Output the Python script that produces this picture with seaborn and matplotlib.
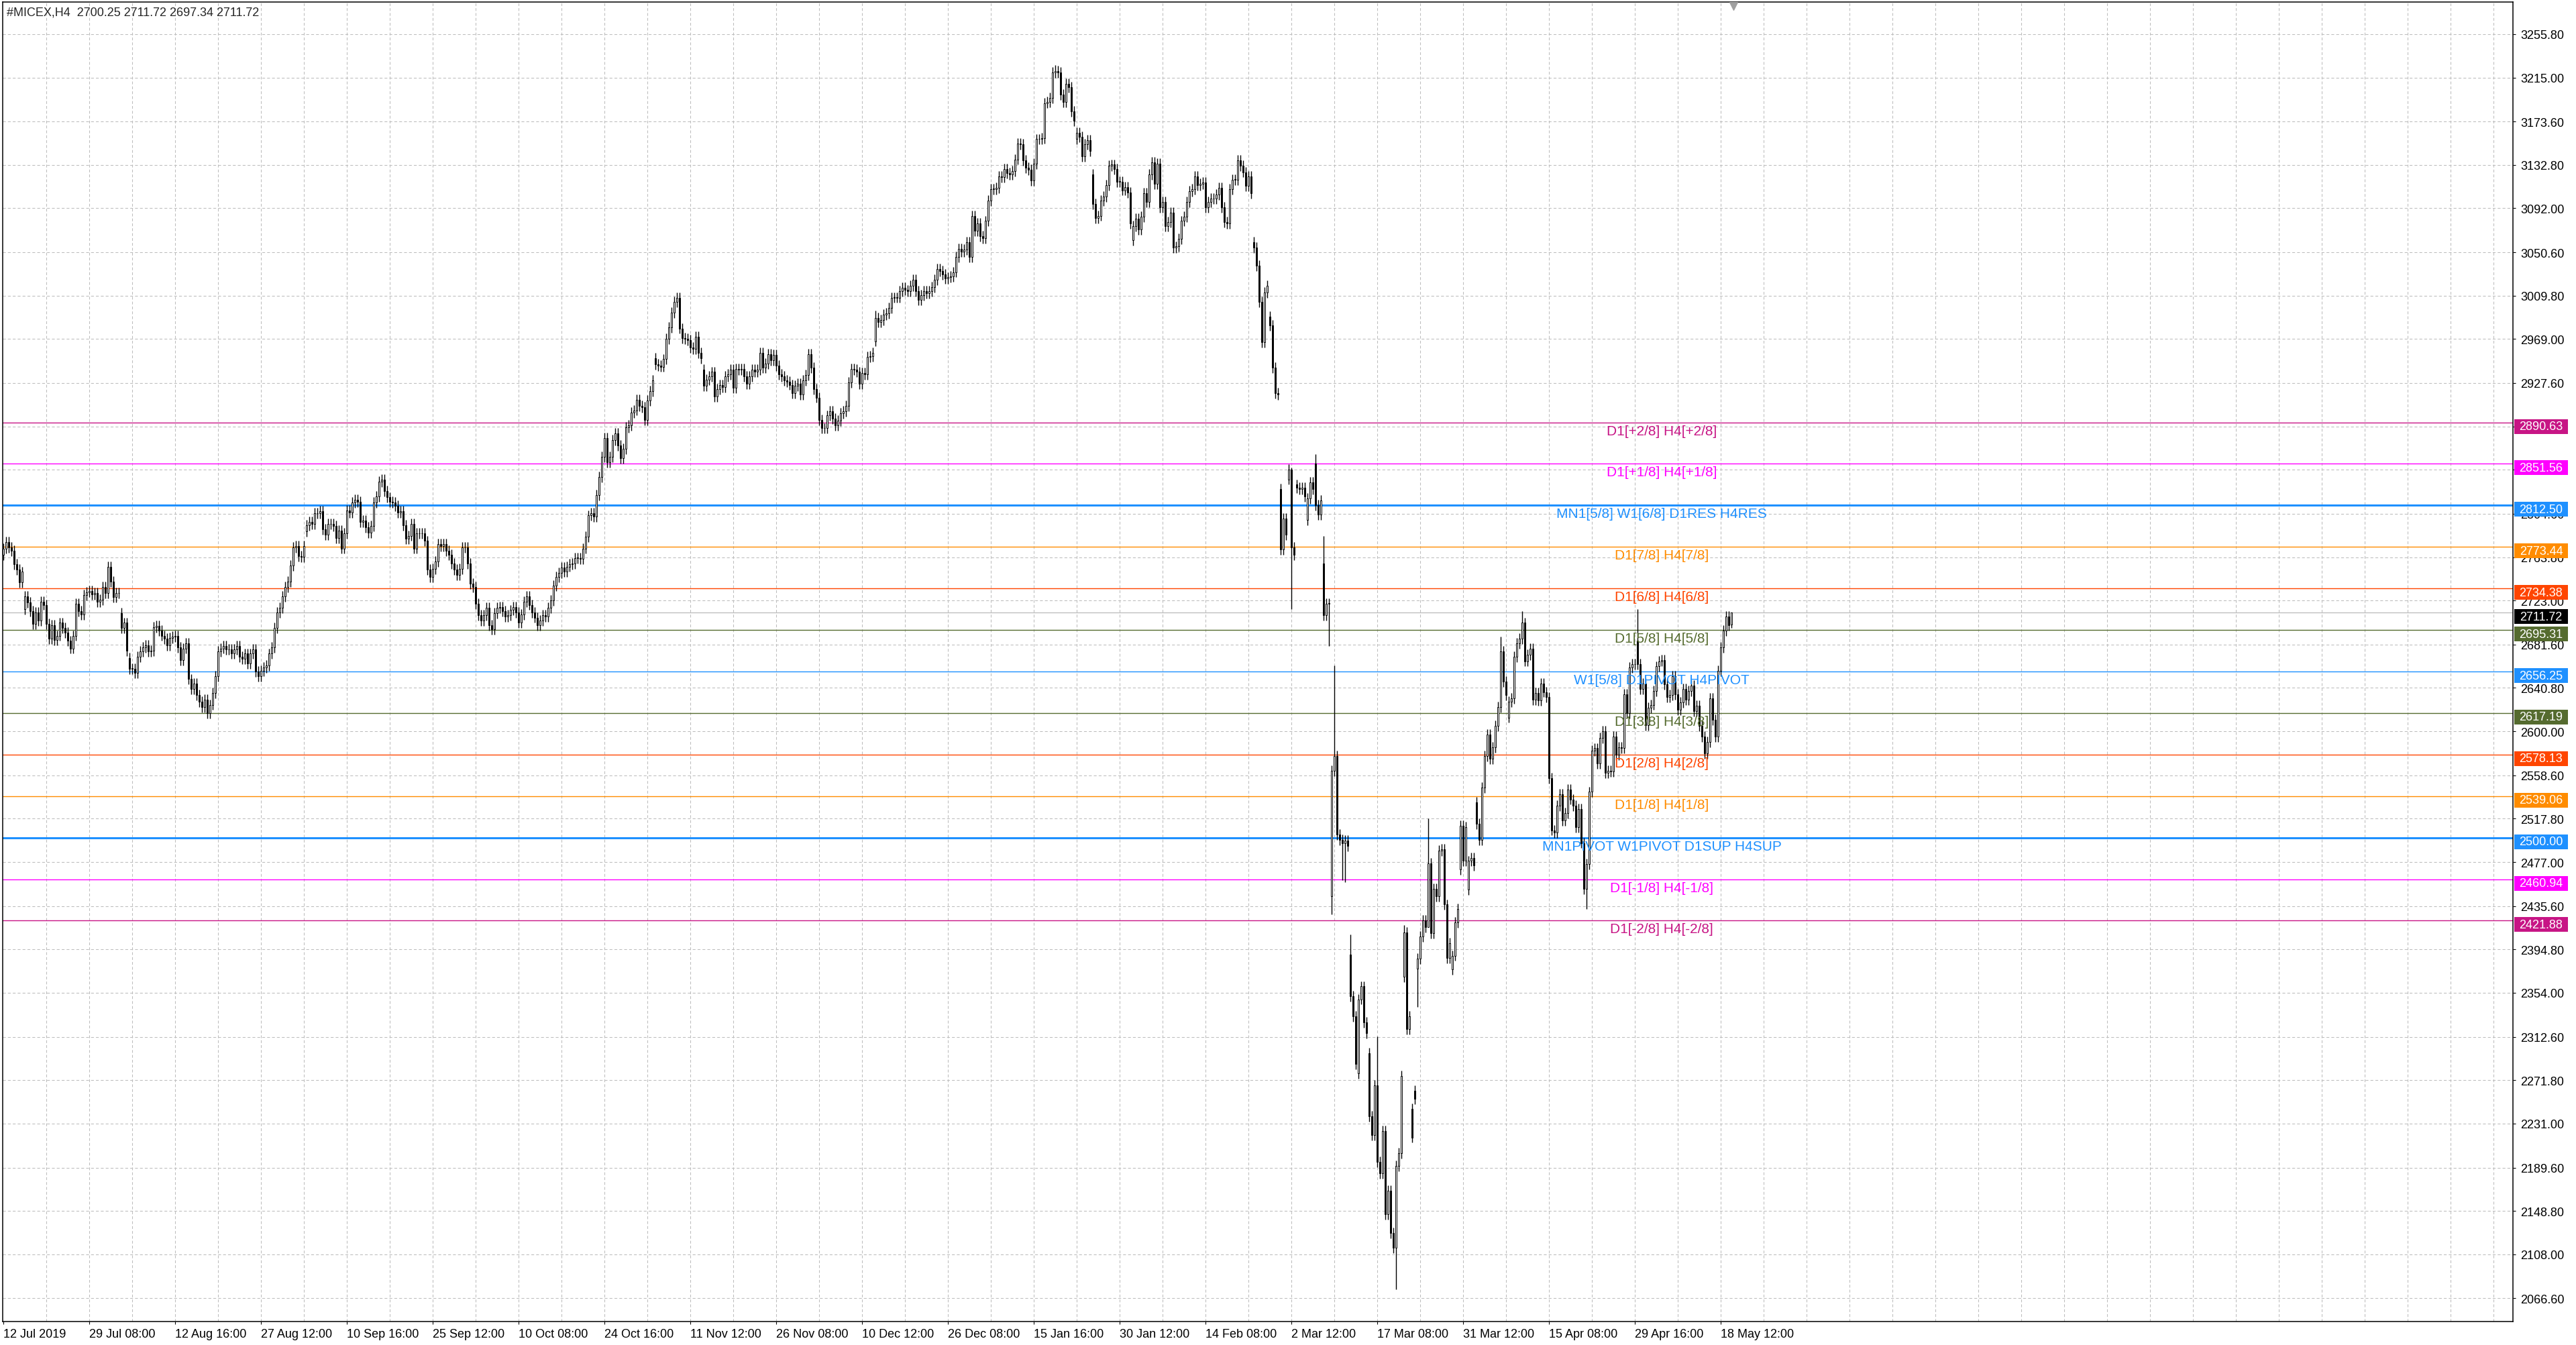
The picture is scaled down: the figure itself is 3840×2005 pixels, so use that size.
import matplotlib
matplotlib.use("Agg")
import matplotlib.pyplot as plt
from matplotlib.patches import Rectangle
import pandas as pd
import seaborn as sns

sns.set_theme(style="white")
plt.rcParams["font.family"] = ["Liberation Sans", "DejaVu Sans"]

# --- data (H4 bars, 12 Jul 2019 .. 19 May 2020) ---
closes = [
    2772, 2778, 2773, 2770, 2757, 2752, 2740, 2750, 2727, 2721, 2713, 2701, 2712, 2704, 2722, 2719,
    2701, 2687, 2700, 2686, 2690, 2702, 2697, 2693, 2685, 2678, 2690, 2720, 2713, 2710, 2728, 2731,
    2732, 2729, 2730, 2722, 2724, 2736, 2730, 2755, 2741, 2726, 2730, 2730, 2697, 2702, 2676, 2659,
    2659, 2655, 2670, 2675, 2679, 2681, 2675, 2676, 2698, 2699, 2695, 2690, 2687, 2681, 2688, 2689,
    2690, 2679, 2667, 2678, 2683, 2649, 2640, 2645, 2634, 2628, 2623, 2630, 2617, 2625, 2636, 2652,
    2675, 2678, 2680, 2677, 2677, 2673, 2677, 2680, 2670, 2668, 2673, 2664, 2673, 2677, 2656, 2652,
    2657, 2660, 2662, 2673, 2679, 2697, 2712, 2716, 2727, 2736, 2741, 2756, 2773, 2774, 2765, 2764,
    2774, 2794, 2797, 2795, 2805, 2805, 2807, 2790, 2785, 2795, 2795, 2793, 2782, 2789, 2772, 2786,
    2808, 2806, 2815, 2818, 2816, 2797, 2798, 2792, 2787, 2793, 2815, 2821, 2835, 2837, 2826, 2820,
    2816, 2815, 2812, 2806, 2807, 2794, 2781, 2784, 2795, 2772, 2786, 2786, 2786, 2779, 2752, 2745,
    2753, 2760, 2776, 2774, 2776, 2770, 2766, 2758, 2752, 2747, 2753, 2773, 2773, 2758, 2739, 2736,
    2720, 2709, 2704, 2709, 2716, 2700, 2696, 2711, 2716, 2717, 2713, 2708, 2709, 2714, 2717, 2712,
    2702, 2710, 2722, 2727, 2719, 2712, 2707, 2700, 2704, 2709, 2708, 2716, 2723, 2737, 2745, 2749,
    2754, 2750, 2755, 2757, 2758, 2763, 2763, 2762, 2772, 2783, 2803, 2805, 2802, 2822, 2839, 2858,
    2876, 2853, 2858, 2874, 2880, 2869, 2857, 2866, 2886, 2888, 2900, 2902, 2912, 2906, 2905, 2893,
    2911, 2920, 2930, 2945, 2944, 2943, 2950, 2969, 2980, 2994, 3004, 3008, 2979, 2970, 2969, 2968,
    2961, 2960, 2971, 2956, 2951, 2925, 2931, 2934, 2938, 2915, 2922, 2926, 2924, 2934, 2936, 2940,
    2923, 2941, 2940, 2941, 2934, 2927, 2934, 2940, 2938, 2940, 2956, 2942, 2946, 2955, 2949, 2954,
    2944, 2936, 2934, 2930, 2929, 2926, 2918, 2925, 2927, 2917, 2930, 2935, 2955, 2942, 2922, 2914,
    2893, 2885, 2885, 2897, 2901, 2894, 2888, 2892, 2899, 2901, 2906, 2928, 2941, 2940, 2938, 2927,
    2937, 2936, 2952, 2953, 2956, 2989, 2985, 2987, 2992, 2993, 2998, 3008, 3008, 3008, 3014, 3017,
    3015, 3014, 3019, 3025, 3014, 3006, 3010, 3014, 3012, 3014, 3018, 3025, 3035, 3033, 3030, 3026,
    3027, 3028, 3032, 3046, 3054, 3051, 3053, 3060, 3046, 3085, 3071, 3078, 3066, 3064, 3080, 3099,
    3110, 3110, 3111, 3122, 3121, 3129, 3125, 3124, 3127, 3138, 3153, 3152, 3137, 3130, 3128, 3118,
    3134, 3157, 3157, 3158, 3191, 3192, 3196, 3220, 3221, 3220, 3199, 3192, 3209, 3206, 3183, 3174,
    3163, 3159, 3141, 3152, 3156, 3146, 3096, 3083, 3085, 3099, 3103, 3114, 3132, 3133, 3129, 3117,
    3117, 3109, 3112, 3107, 3078, 3075, 3082, 3072, 3084, 3106, 3098, 3124, 3135, 3115, 3134, 3093,
    3098, 3075, 3079, 3088, 3055, 3056, 3063, 3080, 3084, 3098, 3108, 3110, 3122, 3114, 3115, 3116,
    3093, 3098, 3101, 3101, 3105, 3111, 3093, 3079, 3078, 3110, 3119, 3119, 3137, 3132, 3126, 3113,
    3122, 3106, 3055, 3038, 3004, 2966, 3013, 3019, 2982, 2942, 2918, 2917, 2771, 2800, 2785, 2846,
    2773, 2766, 2829, 2828, 2829, 2821, 2819, 2834, 2828, 2813, 2804, 2817, 2709, 2720, 2720, 2563,
    2577, 2503, 2498, 2495, 2497, 2492, 2351, 2332, 2287, 2348, 2360, 2326, 2316, 2238, 2220, 2267,
    2195, 2184, 2224, 2146, 2168, 2128, 2114, 2191, 2203, 2276, 2411, 2320, 2332, 2218, 2254, 2386,
    2407, 2422, 2416, 2476, 2410, 2452, 2445, 2488, 2489, 2437, 2387, 2401, 2389, 2420, 2433, 2511,
    2478, 2510, 2478, 2481, 2474, 2513, 2498, 2547, 2577, 2597, 2574, 2585, 2605, 2623, 2675, 2647,
    2634, 2628, 2631, 2670, 2683, 2687, 2702, 2666, 2672, 2678, 2630, 2636, 2629, 2645, 2637, 2632,
    2556, 2507, 2505, 2530, 2541, 2516, 2523, 2545, 2536, 2530, 2510, 2527, 2495, 2452, 2475, 2543,
    2582, 2584, 2570, 2594, 2600, 2561, 2563, 2562, 2595, 2578, 2585, 2584, 2635, 2617, 2660, 2663,
    2663, 2663, 2640, 2645, 2606, 2622, 2625, 2638, 2661, 2666, 2667, 2644, 2632, 2634, 2652, 2635,
    2620, 2627, 2640, 2630, 2638, 2643, 2619, 2624, 2605, 2595, 2579, 2590, 2631, 2611, 2595, 2657,
    2679, 2695, 2708, 2700, 2711.72,
]

# opens where the bar gapped away from the previous close
gap_opens = {0: 2766, 8: 2715, 44: 2711, 47: 2669, 113: 2788, 243: 2951, 261: 2940,
             325: 2967, 400: 3157, 406: 3124, 421: 3062, 466: 3060, 472: 2990, 476: 2828,
             479: 2837, 482: 2832, 486: 2799, 489: 2852, 492: 2758, 495: 2445, 502: 2390,
             505: 2278, 509: 2297, 522: 2369, 525: 2245, 526: 2262, 527: 2377, 540: 2376,
             543: 2470, 546: 2451, 549: 2533, 561: 2613, 609: 2685, 644: 2700.25}

# long wicks that stand out
wick_highs = {251: 3013, 325: 2996, 392: 3227, 480: 2848, 489: 2861, 492: 2784, 496: 2662,
              502: 2409, 512: 2313, 522: 2418, 531: 2518, 558: 2689, 566: 2713, 609: 2715,
              644: 2711.72}
wick_lows = {480: 2715, 494: 2680, 495: 2428, 499: 2460, 500: 2458, 519: 2075, 527: 2341,
             531: 2466, 590: 2433, 644: 2697.34}
WICK = 5

date_labels = ["12 Jul 2019", "29 Jul 08:00", "12 Aug 16:00", "27 Aug 12:00", "10 Sep 16:00",
               "25 Sep 12:00", "10 Oct 08:00", "24 Oct 16:00", "11 Nov 12:00", "26 Nov 08:00",
               "10 Dec 12:00", "26 Dec 08:00", "15 Jan 16:00", "30 Jan 12:00", "14 Feb 08:00",
               "2 Mar 12:00", "17 Mar 08:00", "31 Mar 12:00", "15 Apr 08:00", "29 Apr 16:00",
               "18 May 12:00"]

price_ticks = ["3255.80", "3215.00", "3173.60", "3132.80", "3092.00", "3050.60", "3009.80",
               "2969.00", "2927.60", "2886.80", "2846.00", "2804.60", "2763.80", "2723.00",
               "2681.60", "2640.80", "2600.00", "2558.60", "2517.80", "2477.00", "2435.60",
               "2394.80", "2354.00", "2312.60", "2271.80", "2231.00", "2189.60", "2148.80",
               "2108.00", "2066.60"]

level_prices = [2890.63, 2851.56, 2812.50, 2773.44, 2734.38, 2695.31, 2656.25,
                2617.19, 2578.13, 2539.06, 2500.00, 2460.94, 2421.88]
level_texts = ["D1[+2/8] H4[+2/8]", "D1[+1/8] H4[+1/8]", "MN1[5/8] W1[6/8] D1RES H4RES",
               "D1[7/8] H4[7/8]", "D1[6/8] H4[6/8]", "D1[5/8] H4[5/8]",
               "W1[5/8] D1PIVOT H4PIVOT", "D1[3/8] H4[3/8]", "D1[2/8] H4[2/8]",
               "D1[1/8] H4[1/8]", "MN1PIVOT W1PIVOT D1SUP H4SUP", "D1[-1/8] H4[-1/8]",
               "D1[-2/8] H4[-2/8]"]
level_colors = ["#C71585", "#FF00FF", "#1E90FF", "#FF8C00", "#FF4500", "#556B2F", "#1E90FF",
                "#556B2F", "#FF4500", "#FF8C00", "#1E90FF", "#FF00FF", "#C71585"]
level_widths = [1.0, 1.0, 2.2, 1.0, 1.0, 1.0, 1.0, 1.0, 1.0, 1.0, 2.2, 1.0, 1.0]

last_price = 2711.72
heading = "#MICEX,H4  2700.25 2711.72 2697.34 2711.72"

# --- build OHLC table ---
n = len(closes)
opens = [gap_opens.get(i, closes[i - 1] if i else closes[0]) for i in range(n)]
df = pd.DataFrame({"open": opens, "close": closes})
df["high"] = [wick_highs.get(i, max(o, c) + WICK) for i, (o, c) in enumerate(zip(opens, closes))]
df["low"] = [wick_lows.get(i, min(o, c) - WICK) for i, (o, c) in enumerate(zip(opens, closes))]
df["bar"] = range(n)
df["up"] = df["close"] >= df["open"]

# --- figure geometry (pixels of the 3840x2006 screenshot) ---
W, H = 3840, 2006
L, R, T, B = 4, 3746, 4, 1971
YMIN, YMAX = 2044.8, 3286.0
px_per_pt = (B - T) / (YMAX - YMIN)

fig = plt.figure(figsize=(W / 100, H / 100), dpi=100, facecolor="white")
ax = fig.add_axes([L / W, 1 - B / H, (R - L) / W, (B - T) / H])
ax.set_facecolor("white")
ax.set_xlim(-0.25, (R - L) / 4 - 0.25)
ax.set_ylim(YMIN, YMAX)

grid_kw = dict(color="#BDBDBD", lw=0.75, ls=(0, (4, 3)), zorder=0)
for b in range(16, int((R - L) / 4), 16):
    ax.axvline(b, **grid_kw)
for t in price_ticks:
    ax.axhline(float(t), **grid_kw)

# pivot / murrey levels
for p, txt, c, w in zip(level_prices, level_texts, level_colors, level_widths):
    ax.axhline(p, color=c, lw=w, zorder=1)
    ax.annotate(txt, xy=(618, p), xytext=(0, -3), textcoords="offset pixels",
                ha="center", va="top", color=c, fontsize=15, zorder=6)
ax.axhline(last_price, color="#C0C0C0", lw=1.0, zorder=1)

# candles
ax.vlines(df["bar"], df["low"], df["high"], color="black", lw=1.0, zorder=3)
body_low = df[["open", "close"]].min(axis=1)
body_h = (df["close"] - df["open"]).abs().clip(lower=0.3)
ax.bar(df["bar"], body_h, bottom=body_low, width=0.7,
       color=["white" if u else "black" for u in df["up"]],
       edgecolor="black", linewidth=0.7, zorder=4)

# axes and ticks
for s in ax.spines.values():
    s.set_color("black")
    s.set_linewidth(1.1)
ax.yaxis.tick_right()
ax.set_yticks([float(t) for t in price_ticks])
ax.set_yticklabels(price_ticks)
ax.tick_params(axis="y", direction="out", length=3, width=0.8, pad=5, labelsize=13,
               colors="black", left=False, right=True)
ax.set_xticks(range(0, 32 * len(date_labels), 32))
ax.set_xticklabels(date_labels, ha="left")
ax.tick_params(axis="x", direction="out", length=3, width=0.8, pad=4, labelsize=13,
               colors="black", bottom=True)

# coloured price boxes on the right scale
yx = ax.get_yaxis_transform()
x0 = (3748 - L) / (R - L)
bw = 80 / (R - L)
for p, c in list(zip(level_prices, level_colors)) + [(last_price, "black")]:
    ax.add_patch(Rectangle((x0, p - 17 / px_per_pt), bw, 22 / px_per_pt, transform=yx,
                           facecolor=c, edgecolor="none", clip_on=False, zorder=10))
    ax.text(x0 + bw / 2, p - 6 / px_per_pt, f"{p:.2f}", transform=yx, ha="center",
            va="center", color="white", fontsize=13, zorder=11, clip_on=False)

ax.annotate(heading, xy=(0, 1), xycoords="axes fraction", xytext=(6, -6),
            textcoords="offset pixels", ha="left", va="top", fontsize=13, zorder=12)
ax.scatter([n - 0.25], [0.997], marker="v", s=70, color="#A0A0A0",
           transform=ax.get_xaxis_transform(), clip_on=False, zorder=12)

fig.savefig("out.png", dpi=100, facecolor="white")
